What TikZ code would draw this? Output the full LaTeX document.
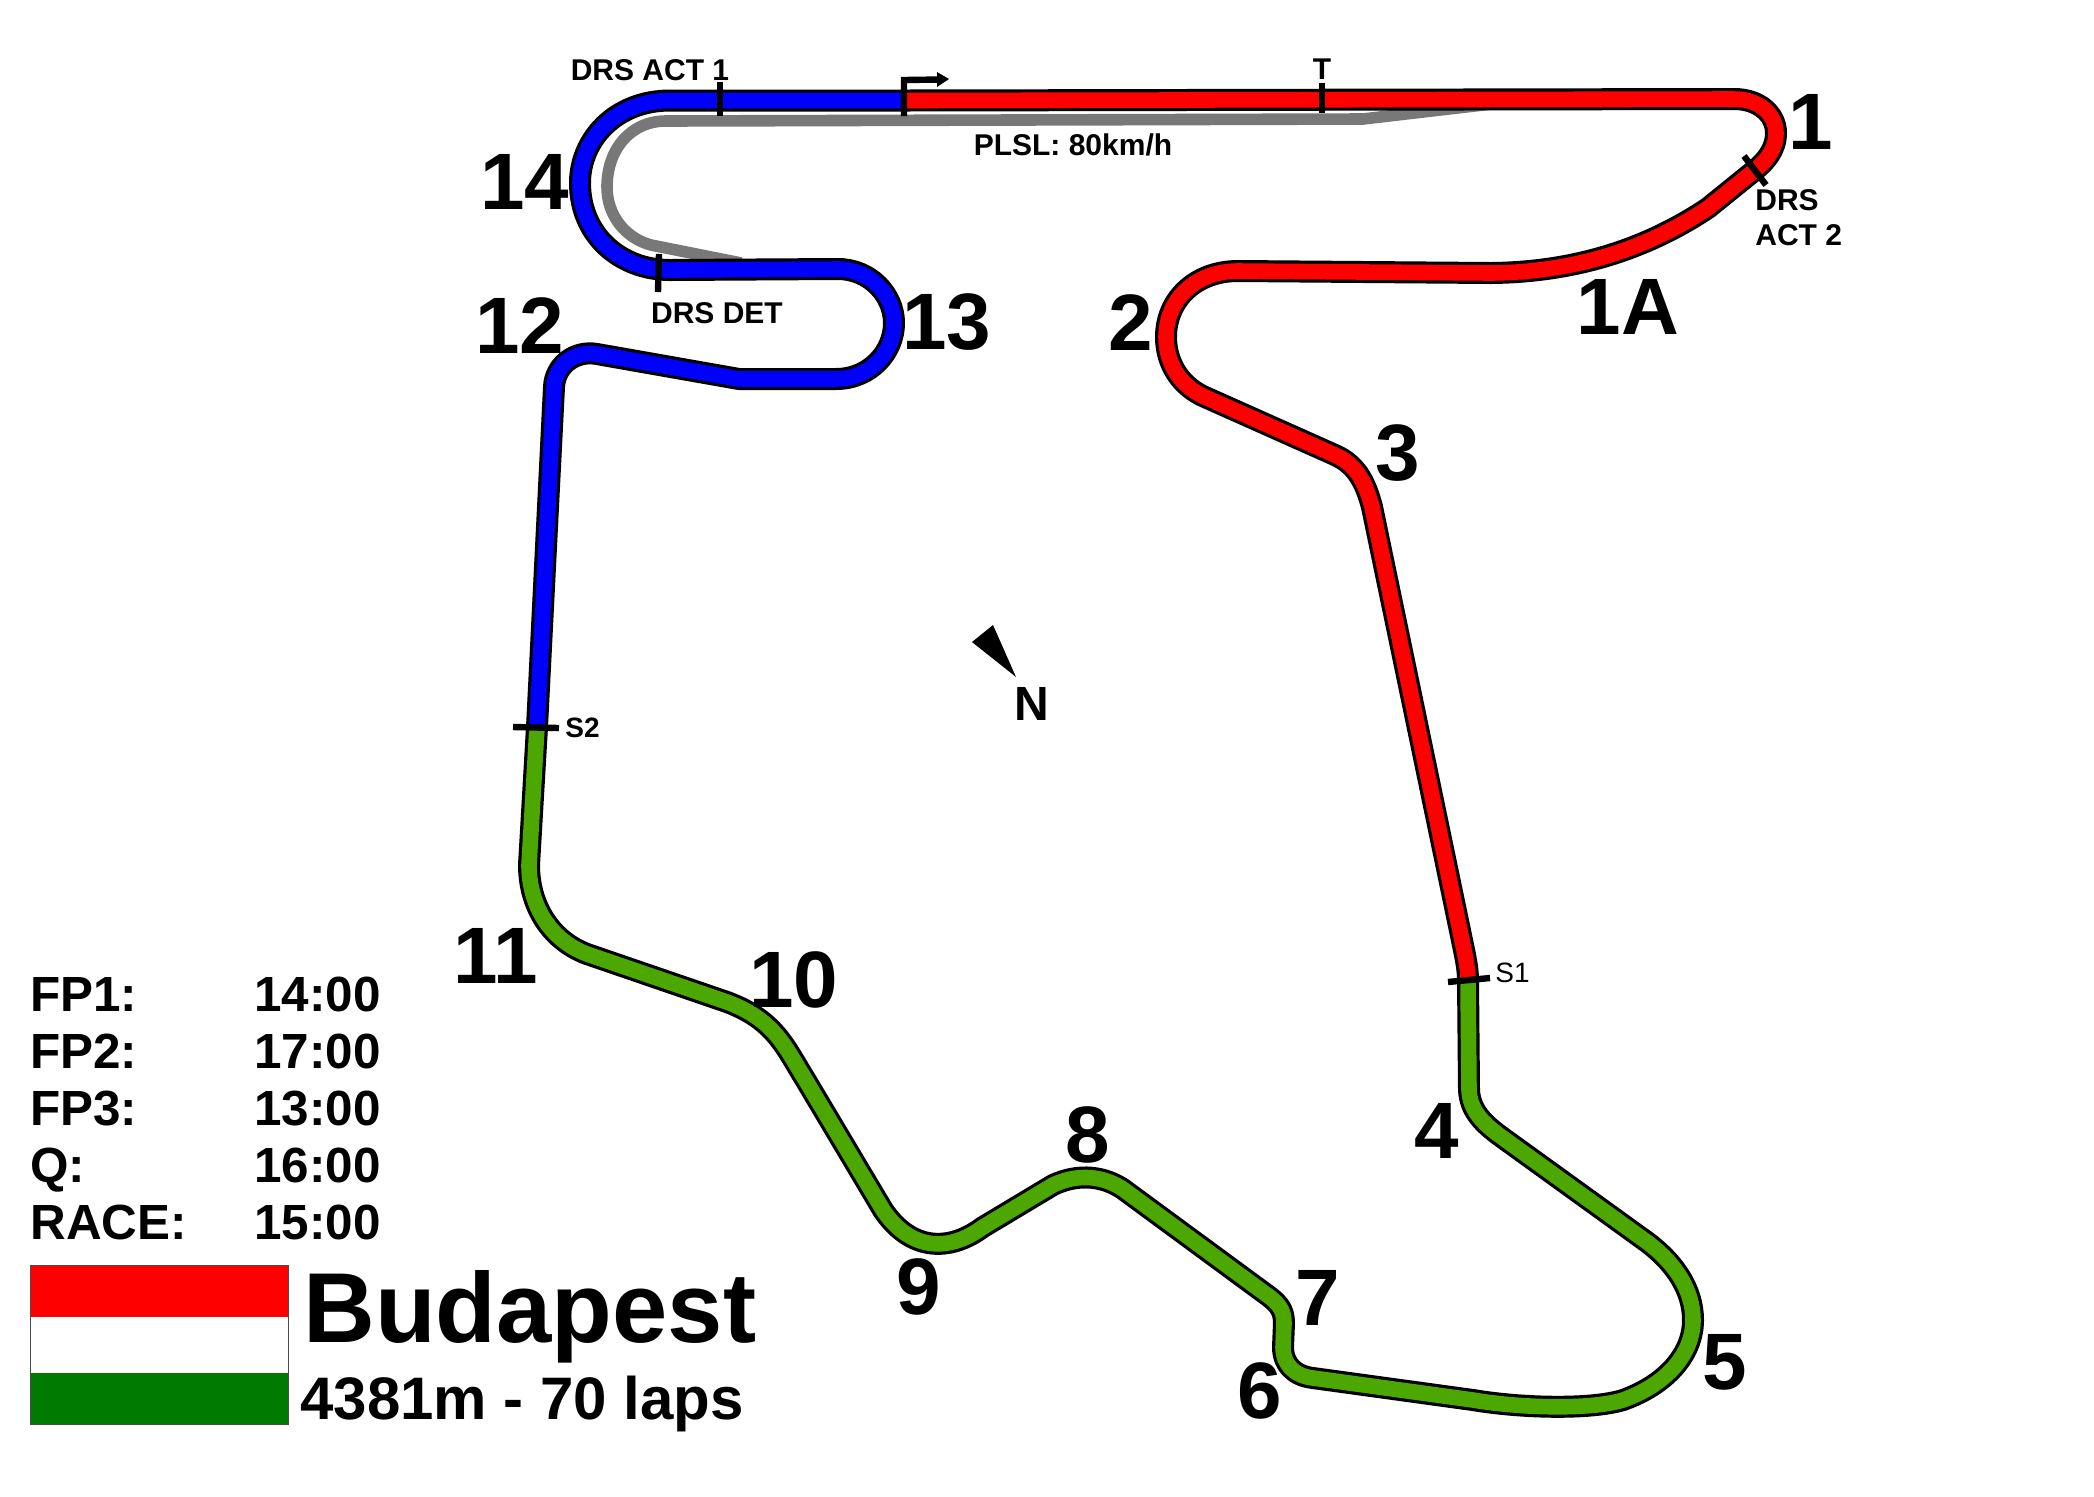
\documentclass[tikz,border=0pt]{standalone}
\usepackage{fontspec}
\setmainfont{Liberation Sans}
\definecolor{trackgreen}{RGB}{76,168,0}
\definecolor{pitgrey}{RGB}{120,120,120}
\definecolor{flaggreen}{RGB}{0,122,0}
\tikzset{
  trackedge/.style={draw=black,line width=11pt,line join=round},
  trackfill/.style={line width=7.8pt,line join=round},
  pitlane/.style={draw=pitgrey,line width=5.8pt,line join=round},
  tick/.style={draw=black,line width=3.2pt},
  turnlabel/.style={inner sep=0pt,font=\bfseries\fontsize{40}{44}\selectfont},
  smalllabel/.style={inner sep=0pt,font=\bfseries\fontsize{15}{17}\selectfont},
  sectorlabel/.style={inner sep=0pt,anchor=west,font=\fontsize{14}{16}\selectfont},
  sessionlabel/.style={inner sep=0pt,anchor=base west,font=\bfseries\fontsize{24.7}{28}\selectfont}
}
\def\redpath{(904,100.5) -- (1734,99) .. controls (1760,99) and (1776,115) .. (1776,133) .. controls (1776,150) and (1765,162) .. (1755,170) -- (1708,208) .. controls (1660,240) and (1590,272) .. (1491,273) -- (1238,271) .. controls (1195,271) and (1166,300) .. (1166,337) .. controls (1166,365) and (1182,387) .. (1205,397) -- (1335,455) .. controls (1355,464) and (1365,480) .. (1372,507) -- (1464,950) .. controls (1466,960) and (1468,970) .. (1468,980)}
\def\greenpath{(1468,980) -- (1469,1090) .. controls (1470,1110) and (1482,1123) .. (1503,1138) -- (1647,1242) .. controls (1675,1263) and (1693,1290) .. (1693,1320) .. controls (1693,1355) and (1665,1385) .. (1623,1400) .. controls (1590,1410) and (1520,1408) .. (1473,1400) -- (1313,1378) .. controls (1295,1376) and (1283,1365) .. (1283,1347) -- (1284,1323) .. controls (1284,1308) and (1277,1302) .. (1263,1292) -- (1127,1192) .. controls (1112,1180) and (1085,1170) .. (1053,1185) -- (983,1227) .. controls (948,1253) and (910,1250) .. (883,1210) -- (805,1079) .. controls (785,1047) and (775,1020) .. (727,1002) -- (587,954) .. controls (550,940) and (529,905) .. (529,865) -- (537,727)}
\def\bluepath{(537,727) -- (554,387) .. controls (555,365) and (575,350) .. (597,354) -- (739,379) -- (836,379) .. controls (870,379) and (894,352) .. (894,323) .. controls (894,295) and (870,269) .. (838,269) -- (670,270) .. controls (620,270) and (580,235) .. (580,183) .. controls (580,140) and (615,100.5) .. (670,100.5) -- (904,100.5)}
\begin{document}
\begin{tikzpicture}[x=0.5pt,y=-0.5pt]
  \useasboundingbox (0,0) rectangle (2094,1496);

  % pit lane
  \draw[pitlane] (1530,99.5) -- (1363,119) -- (666,121) .. controls (630,121) and (607,150) .. (607,187) .. controls (607,215) and (625,238) .. (651,245) -- (741,263);

  % track
  \draw[trackedge] \redpath;
  \draw[trackedge] \greenpath;
  \draw[trackedge] \bluepath;
  \draw[trackfill,red] \redpath;
  \draw[trackfill,trackgreen] \greenpath;
  \draw[trackfill,blue] \bluepath;

  % marks
  \coordinate (startbase) at (904,116);
  \coordinate (starttop) at (904,80);
  \coordinate (starttip) at (949,79);
  \draw[tick] (startbase) -- (starttop) -- (940,79.5);
  \fill (starttip) -- (937,72) -- (937,87) -- cycle;
  \draw[tick] (720,82) -- (720,116);
  \draw[tick] (1322,83) -- (1322,113);
  \draw[tick] (659,254) -- (658,292);
  \draw[tick] (1744,156) -- (1766,185);
  \draw[tick] (1448,982) -- (1490,978);
  \draw[tick] (513,727) -- (559,728);

  % north arrow
  \fill (993,625) -- (972,642) -- (1016,677) -- cycle;
  \node[inner sep=0pt,font=\bfseries\fontsize{24}{26}\selectfont] (north) at (1032,703.5) {N};

  % turns
  \node[turnlabel] (t1) at (1811,122) {1};
  \node[turnlabel] (t1a) at (1628,307) {1A};
  \node[turnlabel] (t2) at (1131,323) {2};
  \node[turnlabel] (t3) at (1398,453) {3};
  \node[turnlabel] (t4) at (1437,1131) {4};
  \node[turnlabel] (t5) at (1725,1362) {5};
  \node[turnlabel] (t6) at (1260,1391) {6};
  \node[turnlabel] (t7) at (1318,1298) {7};
  \node[turnlabel] (t8) at (1088,1135) {8};
  \node[turnlabel] (t9) at (919,1287) {9};
  \node[turnlabel] (t10) at (794,980) {10};
  \node[turnlabel] (t11) at (496,956) {11};
  \node[turnlabel] (t12) at (520,326) {12};
  \node[turnlabel] (t13) at (947,322) {13};
  \node[turnlabel] (t14) at (525,182) {14};

  % small labels
  \node[smalllabel] (act1) at (650,70) {DRS ACT 1};
  \node[smalllabel] (speed) at (1073,145) {PLSL: 80km/h};
  \node[smalllabel] (trap) at (1322,69) {T};
  \node[smalllabel] (det) at (717,313) {DRS DET};
  \node[smalllabel,anchor=west] (act2a) at (1755,200) {DRS};
  \node[smalllabel,anchor=west] (act2b) at (1755,235) {ACT 2};
  \node[sectorlabel] (s1) at (1495,973) {S1};
  \node[sectorlabel,font=\bfseries\fontsize{14}{16}\selectfont] (s2) at (565,728) {S2};

  % sessions
  \node[sessionlabel] (fp1) at (30,1011) {FP1:};
  \node[sessionlabel] (fp2) at (30,1068) {FP2:};
  \node[sessionlabel] (fp3) at (30,1125) {FP3:};
  \node[sessionlabel] (q) at (30,1182) {Q:};
  \node[sessionlabel] (race) at (30,1239) {RACE:};
  \node[sessionlabel] (fp1t) at (254,1011) {14:00};
  \node[sessionlabel] (fp2t) at (254,1068) {17:00};
  \node[sessionlabel] (fp3t) at (254,1125) {13:00};
  \node[sessionlabel] (qt) at (254,1182) {16:00};
  \node[sessionlabel] (racet) at (254,1239) {15:00};

  % flag
  \fill[red] (30,1265) rectangle (288,1317);
  \fill[flaggreen] (30,1373) rectangle (288,1424);
  \draw[line width=.4pt,black!70] (30,1265) rectangle (288,1424);

  \node[inner sep=0pt,anchor=base west,font=\bfseries\fontsize{49.7}{54}\selectfont] (city) at (303,1342) {Budapest};
  \node[inner sep=0pt,anchor=base west,font=\bfseries\fontsize{30}{34}\selectfont] (length) at (300,1419) {4381m - 70 laps};
\end{tikzpicture}
\end{document}
